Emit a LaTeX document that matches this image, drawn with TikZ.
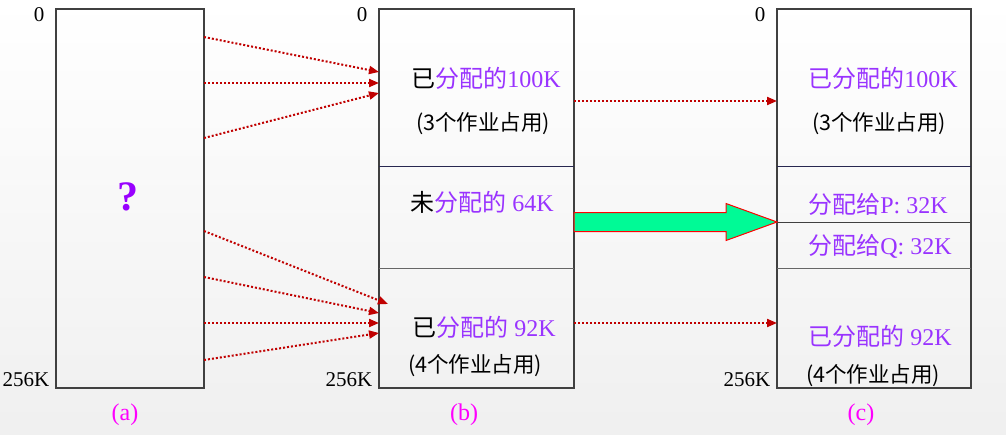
\documentclass[tikz,border=0pt]{standalone}
\usepackage{fontspec}
\setmainfont{Liberation Serif}
\newfontfamily\cjk{Noto Sans CJK SC}
\usetikzlibrary{arrows.meta,positioning,calc}

\definecolor{memviolet}{RGB}{153,51,255}
\definecolor{qviolet}{RGB}{153,0,255}
\definecolor{labelpink}{RGB}{255,0,255}
\definecolor{dotred}{RGB}{192,0,0}
\definecolor{arrowgreen}{RGB}{0,250,150}
\definecolor{boxgray}{RGB}{64,64,64}
\definecolor{divnavy}{RGB}{40,40,80}

\begin{document}
\begin{tikzpicture}[x=1pt, y=-1pt]
    % Define styles
    \tikzset{
      membox/.style={rectangle, draw=boxgray, line width=1.5pt, anchor=north west, inner sep=0pt, outer sep=0pt, minimum height=379pt},
      memtext/.style={font=\fontsize{24}{28}\selectfont, text=memviolet, inner sep=0pt},
      jobtext/.style={font=\cjk\fontsize{21.5}{26}\selectfont, inner sep=0pt},
      addr/.style={font=\fontsize{21}{24}\selectfont, inner sep=0pt},
      caption/.style={font=\fontsize{24}{28}\selectfont, text=labelpink, inner sep=0pt},
      divider/.style={draw=divnavy, line width=1pt},
      move/.style={draw=dotred, line width=2pt, dash pattern=on 2pt off 2pt, -{Triangle[length=10pt,width=8pt]}},
      bigarrow/.style={draw=red, line width=1pt, fill=arrowgreen}
    }

    % Background
    \useasboundingbox (0,0) rectangle (1006,434);
    \shade[top color=white, bottom color=black!6] (0,0) rectangle (1006,434);

    % Memory boxes
    \node [membox, minimum width=148pt] (boxa) at (56,9) {};
    \node [membox, minimum width=195pt] (boxb) at (379,9) {};
    \node [membox, minimum width=194pt] (boxc) at (777,9) {};

    % Dividers
    \draw [divider] ([yshift=-157pt]boxb.north west) -- ([yshift=-157pt]boxb.north east);
    \draw [divider, draw=boxgray!80] ([yshift=-259pt]boxb.north west) -- ([yshift=-259pt]boxb.north east);
    \draw [divider] ([yshift=-157pt]boxc.north west) -- ([yshift=-157pt]boxc.north east);
    \draw [divider, draw=boxgray] ([yshift=-213pt]boxc.north west) -- ([yshift=-213pt]boxc.north east);
    \draw [divider, draw=boxgray!80] ([yshift=-259pt]boxc.north west) -- ([yshift=-259pt]boxc.north east);

    % Addresses
    \node [addr] (a_top) at (39,15) {0};
    \node [addr] (a_bot) at (26,380) {256K};
    \node [addr] (b_top) at (362,15) {0};
    \node [addr] (b_bot) at (349,380) {256K};
    \node [addr] (c_top) at (760,15) {0};
    \node [addr] (c_bot) at (747,380) {256K};

    % Captions
    \node [caption] (cap_a) at (125,415) {(a)};
    \node [caption] (cap_b) at (464,415) {(b)};
    \node [caption] (cap_c) at (861,415) {(c)};

    % Box contents
    \node [font=\bfseries\fontsize{42}{46}\selectfont, text=qviolet, inner sep=0pt] (unknown) at (128,197) {?};

    \node [memtext] (b_used1) at (486,78) {{\cjk\color{black}已}{\cjk 分配的}100K};
    \node [jobtext] (b_jobs1) at (483,124) {(3个作业占用)};
    \node [memtext] (b_free) at (482,202) {{\cjk\color{black}未}{\cjk 分配的} 64K};
    \node [memtext] (b_used2) at (484,327) {{\cjk\color{black}已}{\cjk 分配的} 92K};
    \node [jobtext] (b_jobs2) at (475,366) {(4个作业占用)};

    \node [memtext] (c_used1) at (883,78) {{\cjk 已分配的}100K};
    \node [jobtext] (c_jobs1) at (879,124) {(3个作业占用)};
    \node [memtext] (c_p) at (878,204) {{\cjk 分配给}P: 32K};
    \node [memtext] (c_q) at (880,246) {{\cjk 分配给}Q: 32K};
    \node [memtext] (c_used2) at (880,336) {{\cjk 已分配的} 92K};
    \node [jobtext] (c_jobs2) at (873,376) {(4个作业占用)};

    % Arrows a -> b
    \draw [move] ([yshift=-28pt]boxa.north east) -- ([yshift=-63pt]boxb.north west);
    \draw [move] ([yshift=-74pt]boxa.north east) -- ([yshift=-74pt]boxb.north west);
    \draw [move] ([yshift=-129pt]boxa.north east) -- ([yshift=-84pt]boxb.north west);
    \draw [move] ([yshift=-222pt]boxa.north east) -- ([xshift=9pt,yshift=-295pt]boxb.north west);
    \draw [move] ([yshift=-268pt]boxa.north east) -- ([yshift=-304pt]boxb.north west);
    \draw [move] ([yshift=-314pt]boxa.north east) -- ([yshift=-314pt]boxb.north west);
    \draw [move] ([yshift=-351pt]boxa.north east) -- ([yshift=-324pt]boxb.north west);

    % Arrows b -> c
    \draw [move] ([yshift=-92pt]boxb.north east) -- ([yshift=-92pt]boxc.north west);
    \draw [move] ([yshift=-314pt]boxb.north east) -- ([yshift=-314pt]boxc.north west);

    % Big arrow
    \coordinate (gs) at ([yshift=-213pt]boxb.north east);
    \coordinate (ge) at ([yshift=-213pt]boxc.north west);
    \draw [bigarrow] ($(gs)+(0,-9.5)$) -- ($(ge)+(-51,-9.5)$) -- ($(ge)+(-51,-18.5)$) -- (ge)
        -- ($(ge)+(-51,18.5)$) -- ($(ge)+(-51,9.5)$) -- ($(gs)+(0,9.5)$) -- cycle;

\end{tikzpicture}
\end{document}
